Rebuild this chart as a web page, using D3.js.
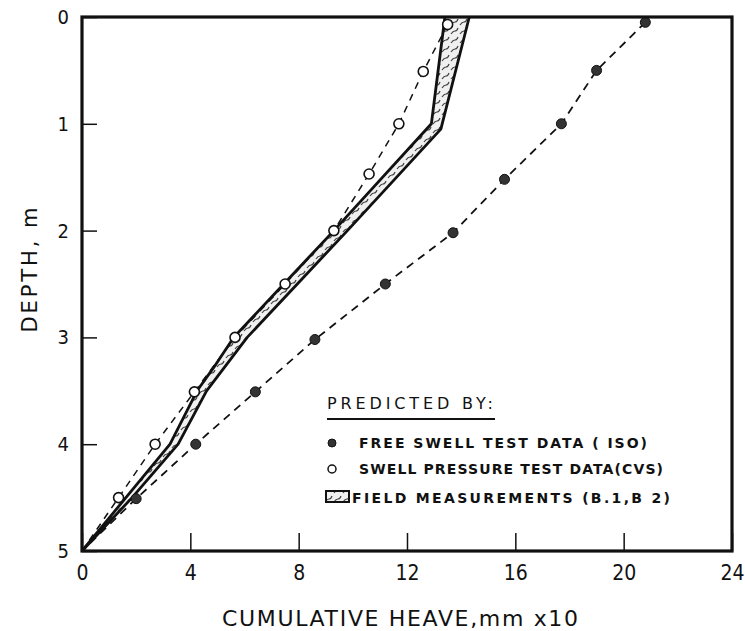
<!DOCTYPE html>
<html><head><meta charset="utf-8">
<script src="https://cdn.jsdelivr.net/npm/d3@7"></script>
<style>
html,body{margin:0;padding:0;background:#fff;}
svg text{fill:#111;}
</style></head>
<body>
<script>
// ---- data ----
const xTickLabels = [0, 4, 8, 12, 16, 20, 24];
const yTickLabels = [0, 1, 2, 3, 4, 5];
// Free swell test data (ISO): [depth, heave]
const freeSwellDepth = [0.05, 0.5, 1.0, 1.52, 2.02, 2.5, 3.02, 3.51, 4.0, 4.51];
const freeSwellHeave = [20.8, 19.0, 17.7, 15.6, 13.7, 11.2, 8.6, 6.4, 4.2, 2.0];
// Swell pressure test data (CVS)
const swellPressDepth = [0.07, 0.51, 1.0, 1.47, 2.0, 2.5, 3.0, 3.51, 4.0, 4.5];
const swellPressHeave = [13.5, 12.6, 11.7, 10.6, 9.3, 7.5, 5.65, 4.15, 2.7, 1.35];
// Field measurements band (B.1, B.2)
const fieldLeftDepth  = [0, 1.0, 2.0, 2.5, 3.0, 3.25, 3.5, 4.0, 4.5, 5.0];
const fieldLeftHeave  = [13.4, 12.9, 9.3, 7.45, 5.6, 4.95, 4.25, 3.25, 1.62, 0];
const fieldRightDepth = [0, 1.05, 2.0, 2.5, 3.0, 3.5, 4.0, 4.5, 5.0];
const fieldRightHeave = [14.3, 13.25, 9.8, 7.95, 6.1, 4.6, 3.55, 1.85, 0];
const legendTitle = "PREDICTED BY:";
const legendLabels = ["FREE SWELL TEST DATA ( ISO)", "SWELL PRESSURE TEST DATA(CVS)", "FIELD MEASUREMENTS (B.1,B 2)"];

// ---- chart ----
const W = 745, H = 631;
const svg = d3.select("body").append("svg").attr("width", W).attr("height", H);
const x = d3.scaleLinear().domain([0, 24]).range([82, 732]);
const y = d3.scaleLinear().domain([0, 5]).range([17, 551]);

const defs = svg.append("defs");
const pat = defs.append("pattern").attr("id", "hatch").attr("patternUnits", "userSpaceOnUse")
  .attr("width", 9).attr("height", 9);
pat.append("rect").attr("width", 9).attr("height", 9).attr("fill", "#f0f0f0");
pat.append("path").attr("d", "M1,7 Q3,4 5,4 T8,1").attr("stroke", "#444").attr("stroke-width", 1.2).attr("fill", "none");

const zip = (d, h) => d.map((v, i) => [h[i], v]);
const freeSwell = zip(freeSwellDepth, freeSwellHeave);
const swellPress = zip(swellPressDepth, swellPressHeave);
const fieldL = zip(fieldLeftDepth, fieldLeftHeave);
const fieldR = zip(fieldRightDepth, fieldRightHeave);

const line = d3.line().x(d => x(d[0])).y(d => y(d[1]));

// band fill
svg.append("path").attr("d", line(fieldL.concat(fieldR.slice().reverse())) + "Z")
  .attr("fill", "url(#hatch)").attr("stroke", "none");
svg.append("path").attr("d", line(fieldL)).attr("fill", "none").attr("stroke", "#111").attr("stroke-width", 2.8).attr("stroke-linejoin", "round");
svg.append("path").attr("d", line(fieldR)).attr("fill", "none").attr("stroke", "#111").attr("stroke-width", 2.8).attr("stroke-linejoin", "round");

// dashed lines
svg.append("path").attr("d", line(freeSwell.concat([[0, 5]])))
  .attr("fill", "none").attr("stroke", "#111").attr("stroke-width", 1.8).attr("stroke-dasharray", "8,6");
svg.append("path").attr("d", line(swellPress.concat([[0, 5]])))
  .attr("fill", "none").attr("stroke", "#111").attr("stroke-width", 1.5).attr("stroke-dasharray", "7,6");

// points
svg.append("g").selectAll("circle").data(freeSwell).join("circle")
  .attr("cx", d => x(d[0])).attr("cy", d => y(d[1])).attr("r", 5)
  .attr("fill", "#333").attr("stroke", "#111").attr("stroke-width", 1);
svg.append("g").selectAll("circle").data(swellPress).join("circle")
  .attr("cx", d => x(d[0])).attr("cy", d => y(d[1])).attr("r", 5)
  .attr("fill", "#fff").attr("stroke", "#111").attr("stroke-width", 1.6);

// axes
const font = "'DejaVu Sans Condensed','DejaVu Sans',sans-serif";
const gx = svg.append("g").attr("transform", `translate(0,${y(5)})`)
  .call(d3.axisBottom(x).tickValues(xTickLabels).tickFormat(d3.format("d")).tickSizeInner(-18).tickSizeOuter(0).tickPadding(14));
gx.select(".domain").remove();
gx.selectAll("line").attr("stroke", "#111").attr("stroke-width", 1.5);
gx.selectAll("text").attr("font-family", font).attr("font-size", 21).attr("fill", "#111");

const gy = svg.append("g").attr("transform", `translate(${x(0)},0)`)
  .call(d3.axisLeft(y).tickValues(yTickLabels).tickFormat(d3.format("d")).tickSizeInner(-15).tickSizeOuter(0).tickPadding(13));
gy.select(".domain").remove();
gy.selectAll("line").attr("stroke", "#111").attr("stroke-width", 1.5);
gy.selectAll("text").attr("font-family", font).attr("font-size", 20).attr("fill", "#111");

// frame
svg.append("rect").attr("x", x(0)).attr("y", y(0)).attr("width", x(24) - x(0)).attr("height", y(5) - y(0))
  .attr("fill", "none").attr("stroke", "#111").attr("stroke-width", 3.2);

// axis titles
svg.append("text").attr("x", 400).attr("y", 626).attr("text-anchor", "middle")
  .attr("font-family", "'DejaVu Sans',sans-serif").attr("font-size", 22)
  .attr("textLength", 356).attr("lengthAdjust", "spacing")
  .text("CUMULATIVE HEAVE,mm x10");
svg.append("text").attr("transform", "translate(37,270) rotate(-90)").attr("text-anchor", "middle")
  .attr("font-family", "'DejaVu Sans',sans-serif").attr("font-size", 21)
  .attr("textLength", 125).attr("lengthAdjust", "spacing")
  .text("DEPTH, m");

// legend
const lf = "'DejaVu Sans',sans-serif";
svg.append("text").attr("x", 327).attr("y", 409).attr("font-family", lf).attr("font-size", 16)
  .attr("textLength", 166).attr("lengthAdjust", "spacing").text(legendTitle);
svg.append("line").attr("x1", 327).attr("x2", 495).attr("y1", 419).attr("y2", 419)
  .attr("stroke", "#111").attr("stroke-width", 2);
svg.append("circle").attr("cx", 332).attr("cy", 443).attr("r", 4).attr("fill", "#333").attr("stroke", "#111");
svg.append("circle").attr("cx", 332).attr("cy", 469).attr("r", 4).attr("fill", "#fff").attr("stroke", "#111").attr("stroke-width", 1.5);
svg.append("rect").attr("x", 326).attr("y", 491).attr("width", 23).attr("height", 11)
  .attr("fill", "url(#hatch)").attr("stroke", "#111").attr("stroke-width", 2);
const lx = [359, 359, 352], ly = [448, 474, 503], lw = [288, 304, 318];
legendLabels.forEach((t, i) => {
  svg.append("text").attr("x", lx[i]).attr("y", ly[i]).attr("font-family", lf).attr("font-weight", "bold")
    .attr("font-size", 14).attr("textLength", lw[i]).attr("lengthAdjust", "spacing").text(t);
});
</script>
</body></html>
